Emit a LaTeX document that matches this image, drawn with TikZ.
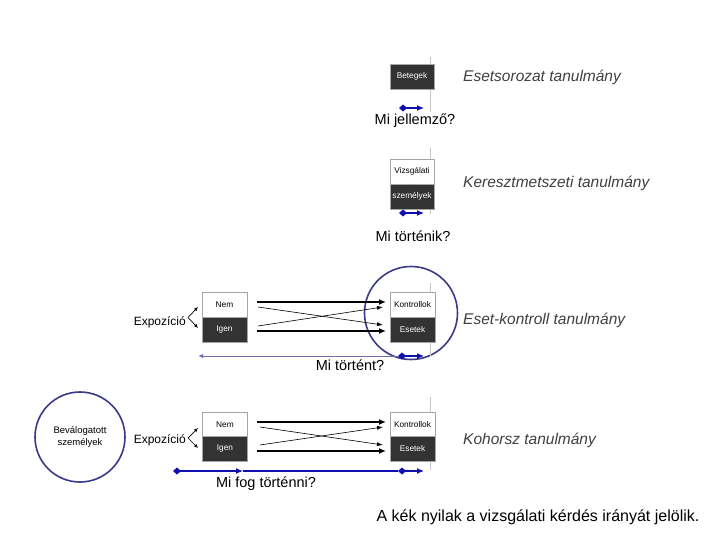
\documentclass[tikz,border=0pt]{standalone}
\usepackage{fontspec}
\setmainfont{Liberation Sans}
\usetikzlibrary{arrows.meta}
\definecolor{boxdark}{HTML}{333333}
\definecolor{titlegray}{HTML}{404040}
\definecolor{qblue}{HTML}{1010B0}
\definecolor{circblue}{HTML}{3A3A88}
\definecolor{longline}{HTML}{7070A8}
\tikzset{
  darkbox/.style={draw=gray!70, fill=boxdark, text=white, minimum width=45pt, minimum height=25pt, inner sep=0pt, font=\fontsize{8.3}{9}\selectfont},
  lightbox/.style={draw=gray!70, fill=white, text=black, minimum width=45pt, minimum height=25pt, inner sep=0pt, font=\fontsize{8.3}{9}\selectfont},
  studytitle/.style={anchor=west, text=titlegray, font=\fontsize{15.5}{18}\selectfont\itshape, inner sep=0pt},
  question/.style={text=black, font=\fontsize{14.5}{17}\selectfont, inner sep=0pt},
  expo/.style={anchor=east, text=black, font=\fontsize{12}{14}\selectfont, inner sep=0pt},
  bluearr/.style={draw=qblue, line width=1.2pt, {Diamond[length=8pt,width=7pt]}-{Latex[length=7pt,width=6pt]}},
  thickarr/.style={draw=black, line width=1.8pt, -{Latex[length=7pt,width=6pt]}},
  thinarr/.style={draw=black, line width=0.6pt, -{Latex[length=6pt,width=4pt]}},
  forkarr/.style={draw=black, line width=0.7pt, -{Latex[length=4pt,width=3.5pt]}},
  grayline/.style={draw=gray!45, line width=0.8pt},
  bigcircle/.style={draw=circblue, line width=1.6pt, circle, inner sep=0pt},
}
\begin{document}
\begin{tikzpicture}[x=1pt,y=-1pt]
\useasboundingbox (0,0) rectangle (720,540);
\fill[white] (0,0) rectangle (720,540);

% ---------- Panel 1 ----------
\coordinate (g1a) at (430,57); \coordinate (g1b) at (430,112);
\draw[grayline] (g1a) -- (g1b);
\node[darkbox, minimum width=44pt] (bet) at (412,76.5) {Betegek};
\node[studytitle] (t1) at (463,77) {Esetsorozat tanulmány};
\coordinate (a1s) at (399,108); \coordinate (a1e) at (424,108);
\draw[bluearr] (a1s) -- (a1e);
\node[question] (q1) at (415,121) {Mi jellemző?};

% ---------- Panel 2 ----------
\coordinate (g2a) at (430,148); \coordinate (g2b) at (430,214);
\draw[grayline] (g2a) -- (g2b);
\node[lightbox, minimum width=44pt] (viz) at (412,171.5) {Vizsgálati};
\node[darkbox, minimum width=44pt] (szem) at (412,196.5) {személyek};
\node[studytitle] (t2) at (463,183) {Keresztmetszeti tanulmány};
\coordinate (a2s) at (399,213); \coordinate (a2e) at (424,213);
\draw[bluearr] (a2s) -- (a2e);
\node[question] (q2) at (413,236) {Mi történik?};

% ---------- Panel 3 ----------
\node[bigcircle, minimum size=93pt] (circ3) at (411,313) {};
\coordinate (g3a) at (430,283); \coordinate (g3b) at (430,356);
\draw[grayline] (g3a) -- (g3b);
\node[lightbox] (nem3) at (224.5,304.5) {Nem};
\node[darkbox] (igen3) at (224.5,329.5) {Igen};
\node[lightbox] (kon3) at (412.5,304.5) {Kontrollok};
\node[darkbox] (ese3) at (412.5,329.5) {Esetek};
\node[expo] (exp3) at (186,322) {Expozíció};
\coordinate (f3v) at (188,317.5);
\coordinate (f3a) at (198,307); \coordinate (f3b) at (198,328);
\draw[forkarr] (f3v) -- (f3a);
\draw[forkarr] (f3v) -- (f3b);
\coordinate (s3a) at (257,302); \coordinate (e3a) at (386,302);
\coordinate (s3b) at (257,331); \coordinate (e3b) at (386,331);
\draw[thickarr] (s3a) -- (e3a);
\draw[thickarr] (s3b) -- (e3b);
\coordinate (c3a) at (258,307); \coordinate (d3a) at (383,325);
\coordinate (c3b) at (258,326); \coordinate (d3b) at (383,307);
\draw[thinarr] (c3a) -- (d3a);
\draw[thinarr] (c3b) -- (d3b);
\coordinate (l3s) at (398,356); \coordinate (l3e) at (198,356);
\draw[draw=longline, line width=0.8pt, -{Latex[length=5pt,width=4pt]}] (l3s) -- (l3e);
\coordinate (a3e) at (424,356);
\draw[bluearr] (l3s) -- (a3e);
\node[question] (q3) at (350,365) {Mi történt?};
\node[studytitle] (t3) at (463,320) {Eset-kontroll tanulmány};

% ---------- Panel 4 ----------
\node[bigcircle, minimum size=90pt, align=center, font=\fontsize{9.5}{11.5}\selectfont] (bev) at (80,437) {Beválogatott\\személyek};
\coordinate (g4a) at (430,397); \coordinate (g4b) at (430,470);
\draw[grayline] (g4a) -- (g4b);
\node[lightbox] (nem4) at (225,424.5) {Nem};
\node[darkbox] (igen4) at (225,449) {Igen};
\node[lightbox] (kon4) at (412.5,424.5) {Kontrollok};
\node[darkbox] (ese4) at (412.5,449) {Esetek};
\node[expo] (exp4) at (186,440) {Expozíció};
\coordinate (f4v) at (188,438);
\coordinate (f4a) at (198,428); \coordinate (f4b) at (198,448);
\draw[forkarr] (f4v) -- (f4a);
\draw[forkarr] (f4v) -- (f4b);
\coordinate (s4a) at (257,422); \coordinate (e4a) at (386,422);
\coordinate (s4b) at (257,451); \coordinate (e4b) at (386,451);
\draw[thickarr] (s4a) -- (e4a);
\draw[thickarr] (s4b) -- (e4b);
\coordinate (c4a) at (260,427); \coordinate (d4a) at (383,445);
\coordinate (c4b) at (260,445); \coordinate (d4b) at (383,427);
\draw[thinarr] (c4a) -- (d4a);
\draw[thinarr] (c4b) -- (d4b);
\coordinate (b4a) at (173,471); \coordinate (b4b) at (243,471);
\coordinate (b4c) at (398,471); \coordinate (b4d) at (424,471);
\draw[bluearr] (b4a) -- (b4b);
\draw[draw=qblue, line width=1.2pt] (b4b) -- (b4c);
\draw[bluearr] (b4c) -- (b4d);
\node[question] (q4) at (266,484) {Mi fog történni?};
\node[studytitle] (t4) at (463,440) {Kohorsz tanulmány};

% ---------- note ----------
\node[text=black, font=\fontsize{16}{18}\selectfont, inner sep=0pt] (note) at (538,517) {A kék nyilak a vizsgálati kérdés irányát jelölik.};
\end{tikzpicture}
\end{document}
